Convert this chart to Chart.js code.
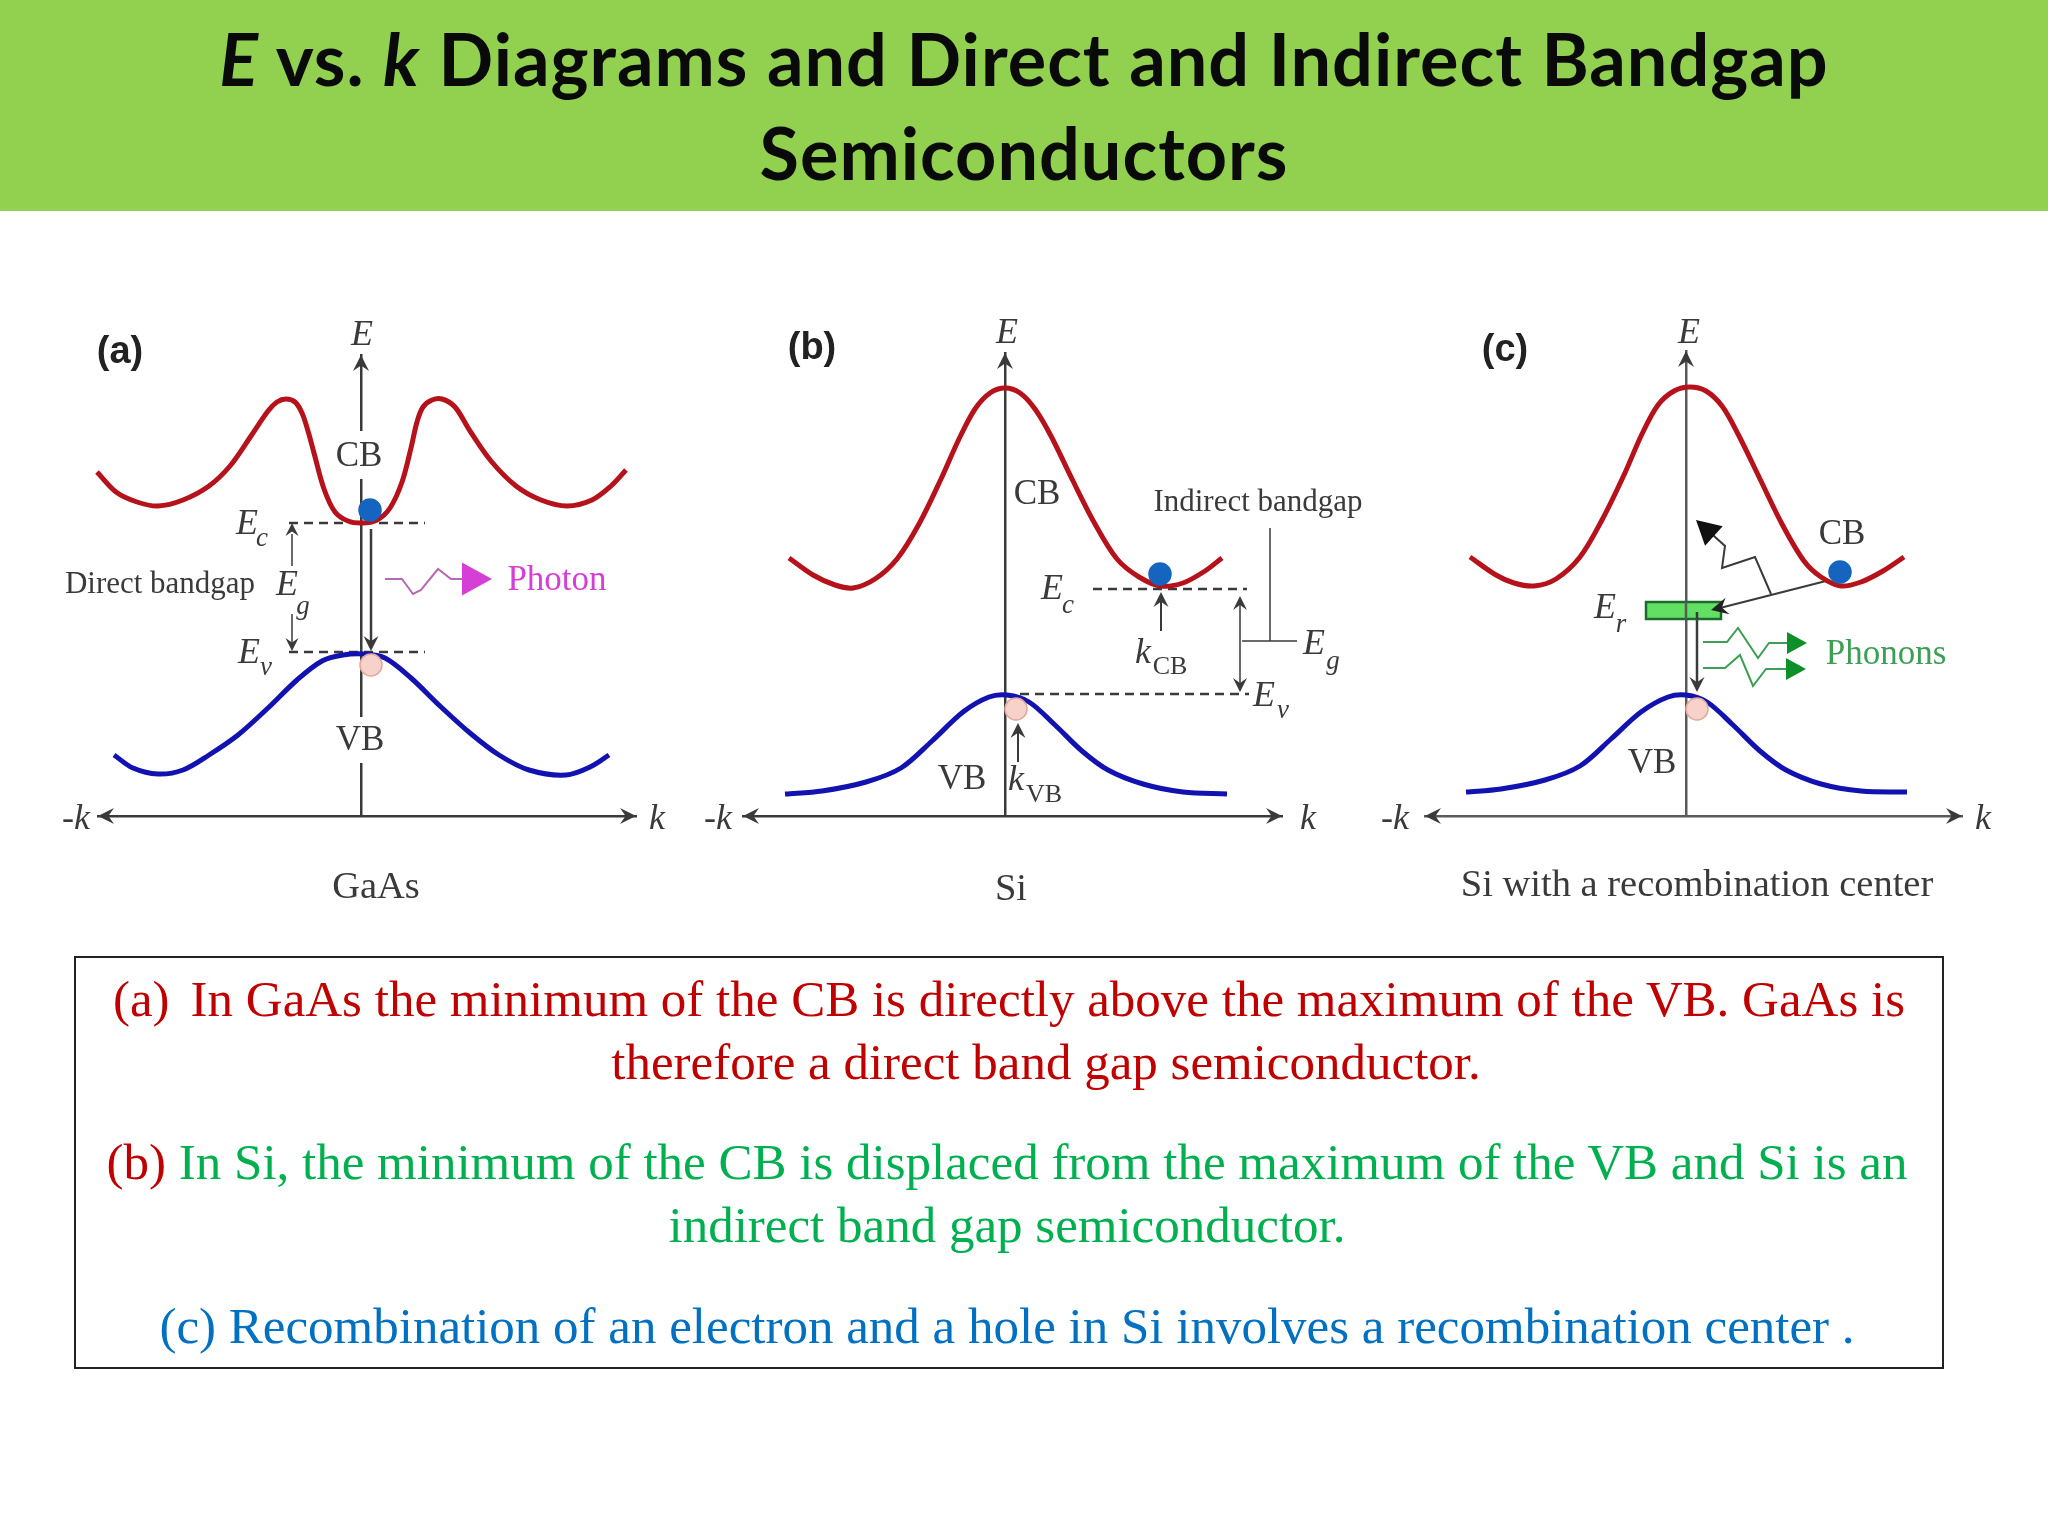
<!DOCTYPE html>
<html>
<head>
<meta charset="utf-8">
<title>E vs. k Diagrams</title>
<script src="https://cdn.jsdelivr.net/npm/chart.js@4/dist/chart.umd.min.js"></script>
<style>
  html, body { margin: 0; padding: 0; background: #fff; }
  #page { position: relative; width: 2048px; height: 1536px; overflow: hidden; }
  #head { position: absolute; left: 0; top: 0; width: 2048px; height: 211px; background: #92d050; }
  .ttl { position: absolute; left: 0; width: 2048px; text-align: center; font: bold 72px Lato, sans-serif; letter-spacing: 1px; color: #0a0a0a; white-space: nowrap; line-height: 80px; }
  #box { position: absolute; left: 74px; top: 956px; width: 1866px; height: 409px; border: 2px solid #222; }
  .ln { position: absolute; width: 2048px; left: 0; text-align: center; font: 51px "Liberation Serif", serif; line-height: 60px; white-space: pre; }
  canvas { position: absolute; filter: blur(0.6px); }
</style>
</head>
<body>
<div id="page">
  <div id="head"></div>
  <div class="ttl" style="top:18px"><i>E</i> vs. <i>k</i> Diagrams and Direct and Indirect Bandgap</div>
  <div class="ttl" style="top:112px">Semiconductors</div>
  <div id="box"></div>
  <div class="ln" style="top:969px;left:-15px;color:#c00000">(a)<span style="margin-left:21px">In GaAs the minimum of the CB is directly above the maximum of the VB. GaAs is</span></div>
  <div class="ln" style="top:1032px;left:22px;color:#c00000">therefore a direct band gap semiconductor.</div>
  <div class="ln" style="top:1132px;left:-17px;color:#00b050"><span style="color:#c00000">(b)</span> In Si, the minimum of the CB is displaced from the maximum of the VB and Si is an</div>
  <div class="ln" style="top:1195px;left:-17px;color:#00b050">indirect band gap semiconductor.</div>
  <div class="ln" style="top:1296px;left:-17px;color:#0070c0">(c) Recombination of an electron and a hole in Si involves a recombination center .</div>
  <canvas id="chartA"></canvas>
  <canvas id="chartB"></canvas>
  <canvas id="chartC"></canvas>
</div>
<script>
// band curves, k = distance from the E axis, E = height over the baseline
var aCBk = [-264,-245,-224,-203,-178,-152,-131,-110,-93,-84,-75,-66,-59,-53,-47,-37,-26,-13,1,16,29,41,50,56,62,71,81,94,109,130,155,180,206,231,250,265];
var aCBe = [347,327,317,313,319,333,353,383,408,417,420,417,406,388,366,330,307,298,296,299,311,337,371,397,412,419,420,412,388,358,333,319,313,319,333,349];
var aVBk = [-247,-228,-203,-178,-152,-123,-93,-64,-39,-18,3,24,50,79,109,138,168,205,231,248];
var aVBe = [64,51,45,49,64,84,111,139,158,164,165,161,141,113,86,64,49,44,53,64];

var bCBk = [-216,-192,-170,-152,-130,-108,-86,-64,-46,-30,-15,0,15,30,46,68,90,112,134,156,178,200,217];
var bCBe = [261,244,234,231,240,260,295,340,380,410,426,431,426,410,383,338,295,260,242,233,236,248,261];
var bVBk = [-220,-183,-139,-104,-73,-42,-16,2,24,50,77,103,138,178,222];
var bVBe = [25,28,37,51,78,107,122,124,117,94,68,49,35,27,25];

var cCBk = [-216,-190,-172,-152,-130,-106,-84,-62,-44,-28,-12,4,20,36,52,74,96,118,135,155,175,197,218];
var cCBe = [262,244,236,233,240,262,299,344,385,414,428,432,428,413,385,340,295,258,242,233,237,248,262];
var cVBk = [-220,-185,-141,-106,-75,-45,-18,0,21,47,74,100,135,175,221];
var cVBe = [27,30,39,53,80,107,122,124,117,94,68,49,35,28,27];

var RED = '#b5121b', BLUE = '#1212b0', INK = '#3a3a3a', MAG = '#d63fd6', GRN = '#0f8f2a', LGRN = '#3c9f55';
var BASE = 3; // height of the k axis in the band data

var FONTS = {
  tag: 'bold 38px "Liberation Sans", sans-serif',
  it: 'italic 36px "Liberation Serif", serif',
  sub: 'italic 27px "Liberation Serif", serif',
  rom: '35px "Liberation Serif", serif',
  low: '26px "Liberation Serif", serif',
  cap: '38.5px "Liberation Serif", serif',
  note: '31px "Liberation Serif", serif'
};

function pts(list) {
  return list.map(function (p) { return { x: p[0], y: p[1] }; });
}
function curve(xs, ys, color) {
  return { data: xs.map(function (x, i) { return { x: x, y: ys[i] }; }), showLine: true, borderColor: color, borderWidth: 5,
    tension: 0.33, pointRadius: 0, order: 2, clip: false };
}
function seg(list, color, width, dash) {
  return { data: pts(list), showLine: true, borderColor: color, borderWidth: width || 2, borderDash: dash || [],
    tension: 0, pointRadius: 0, order: 3, clip: false };
}
function dot(x, y, fill, edge) {
  return { data: [{ x: x, y: y }], showLine: false, pointRadius: 11, backgroundColor: fill, borderColor: edge, borderWidth: 1.5, order: 1, clip: false };
}

// draws arrow heads, green box and labels on top, positions go through the scales
var extras = {
  id: 'extras',
  beforeDatasetsDraw: function (chart, args, o) {
    var c = chart.ctx, sx = chart.scales.x, sy = chart.scales.y;
    (o.masks || []).forEach(function (m) {
      c.fillStyle = '#fff';
      c.fillRect(sx.getPixelForValue(m[0]), sy.getPixelForValue(m[3]), sx.getPixelForValue(m[1]) - sx.getPixelForValue(m[0]), sy.getPixelForValue(m[2]) - sy.getPixelForValue(m[3]));
    });
  },
  afterDatasetsDraw: function (chart, args, o) {
    var c = chart.ctx, sx = chart.scales.x, sy = chart.scales.y;
    if (o.rect) {
      var r = o.rect;
      c.fillStyle = '#63e063'; c.strokeStyle = '#1c6b2c'; c.lineWidth = 2.5;
      c.fillRect(sx.getPixelForValue(r[0]), sy.getPixelForValue(r[3]), sx.getPixelForValue(r[1]) - sx.getPixelForValue(r[0]), sy.getPixelForValue(r[2]) - sy.getPixelForValue(r[3]));
      c.strokeRect(sx.getPixelForValue(r[0]), sy.getPixelForValue(r[3]), sx.getPixelForValue(r[1]) - sx.getPixelForValue(r[0]), sy.getPixelForValue(r[2]) - sy.getPixelForValue(r[3]));
      // the axis and the arrow stay visible through the box
      (o.overBox || []).forEach(function (l) {
        c.strokeStyle = l[2]; c.lineWidth = 2.5; c.beginPath();
        c.moveTo(sx.getPixelForValue(l[0][0]), sy.getPixelForValue(l[0][1]));
        c.lineTo(sx.getPixelForValue(l[1][0]), sy.getPixelForValue(l[1][1]));
        c.stroke();
      });
    }
    (o.arrows || []).forEach(function (a) {
      var tx = sx.getPixelForValue(a.tip[0]), ty = sy.getPixelForValue(a.tip[1]);
      var fx = sx.getPixelForValue(a.from[0]), fy = sy.getPixelForValue(a.from[1]);
      var ang = Math.atan2(ty - fy, tx - fx), s = a.size || 16;
      c.save(); c.translate(tx, ty); c.rotate(ang);
      c.fillStyle = a.color || INK;
      c.beginPath(); c.moveTo(0, 0);
      c.lineTo(-s, -s * (a.solid ? 0.55 : 0.5));
      if (!a.solid) c.lineTo(-s * 0.65, 0);
      c.lineTo(-s, s * (a.solid ? 0.55 : 0.5));
      c.closePath(); c.fill();
      c.restore();
    });
    c.textAlign = 'center'; c.textBaseline = 'middle';
    (o.labels || []).forEach(function (l) {
      c.font = FONTS[l[3]];
      c.fillStyle = l[4] || INK;
      c.fillText(l[0], sx.getPixelForValue(l[1]), sy.getPixelForValue(l[2]) + 1);
    });
  }
};

function panel(id, box, ox, oy, lim, datasets, extra) {
  var cv = document.getElementById(id);
  cv.style.left = box[0] + 'px';
  cv.style.top = box[1] + 'px';
  cv.width = box[2];
  cv.height = box[3];
  var axis = { display: true, ticks: { display: false }, grid: { display: false }, border: { display: true, color: lim[3], width: 2.5 } };
  new Chart(cv.getContext('2d'), {
    type: 'scatter',
    data: { datasets: datasets },
    plugins: [extras],
    options: {
      responsive: false,
      animation: false,
      events: [],
      layout: { padding: {
        left: ox + lim[0] - box[0],
        right: box[0] + box[2] - (ox + lim[1]),
        top: oy - lim[2] - box[1],
        bottom: box[1] + box[3] - (oy - BASE)
      } },
      plugins: { legend: { display: false }, tooltip: { enabled: false }, extras: extra },
      scales: {
        x: Object.assign({ type: 'linear', min: lim[0], max: lim[1], position: { y: BASE } }, axis),
        y: Object.assign({ type: 'linear', min: BASE, max: lim[2], position: { x: 0 } }, axis)
      }
    }
  });
}

var DASH = [9, 6];

panel('chartA', [40, 290, 640, 640], 361, 819, [-263, 275, 464, INK], [
  curve(aCBk, aCBe, RED),
  curve(aVBk, aVBe, BLUE),
  dot(9, 309, '#1565c0', '#1565c0'),
  dot(10, 154, '#f6d2cb', '#e0a898'),
  seg([[-72, 296], [64, 296]], INK, 2.5, DASH),
  seg([[-72, 167], [64, 167]], INK, 2.5, DASH),
  seg([[-69, 253], [-69, 285]], INK, 1.5),
  seg([[-69, 205], [-69, 175]], INK, 1.5),
  seg([[10, 290], [10, 172]], INK, 2.5),
  seg([[24, 240], [41, 240], [52, 225], [60, 229], [77, 250], [90, 240], [104, 240]], '#b56ab5', 2)
], {
  masks: [[-26, 22, 340, 388], [-26, 24, 56, 102]],
  arrows: [
    { tip: [-263, BASE], from: [0, BASE] }, { tip: [275, BASE], from: [0, BASE] }, { tip: [0, 464], from: [0, BASE] },
    { tip: [-69, 296], from: [-69, 250], size: 13 }, { tip: [-69, 168], from: [-69, 205], size: 13 },
    { tip: [10, 168], from: [10, 290], size: 15 },
    { tip: [131, 240], from: [102, 240], size: 30, solid: true, color: MAG }
  ],
  labels: [
    ['(a)', -241, 467, 'tag', '#222'], ['E', 1, 484, 'it'], ['CB', -2, 363, 'rom'], ['VB', -1, 79, 'rom'],
    ['E', -114, 295, 'it'], ['c', -99, 281, 'sub'], ['E', -74, 234, 'it'], ['g', -58, 213, 'sub'],
    ['E', -112, 166, 'it'], ['v', -95, 152, 'sub'], ['Direct bandgap', -201, 235, 'note'],
    ['Photon', 196, 239, 'rom', MAG], ['-k', -285, 0, 'it'], ['k', 296, 0, 'it'], ['GaAs', 15, -68, 'cap']
  ]
});

panel('chartB', [690, 290, 690, 640], 1005, 819, [-262, 277, 466, INK], [
  curve(bCBk, bCBe, RED),
  curve(bVBk, bVBe, BLUE),
  dot(155, 245, '#1565c0', '#1565c0'),
  dot(11, 110, '#f6d2cb', '#e0a898'),
  seg([[88, 230], [242, 230]], INK, 2.5, DASH),
  seg([[15, 125], [244, 125]], INK, 2.5, DASH),
  seg([[235, 215], [235, 135]], INK, 1.5),
  seg([[237, 178], [292, 178]], INK, 1.5),
  seg([[265, 291], [265, 178]], INK, 1.5),
  seg([[156, 188], [156, 220]], INK, 2),
  seg([[13, 57], [13, 90]], INK, 2)
], {
  arrows: [
    { tip: [-262, BASE], from: [0, BASE] }, { tip: [277, BASE], from: [0, BASE] }, { tip: [0, 466], from: [0, BASE] },
    { tip: [235, 223], from: [235, 180], size: 14 }, { tip: [235, 127], from: [235, 180], size: 14 },
    { tip: [156, 227], from: [156, 188], size: 15 }, { tip: [13, 96], from: [13, 57], size: 15 }
  ],
  labels: [
    ['(b)', -193, 471, 'tag', '#222'], ['E', 2, 486, 'it'], ['CB', 32, 325, 'rom'], ['VB', -43, 40, 'rom'],
    ['Indirect bandgap', 253, 317, 'note'], ['E', 47, 230, 'it'], ['c', 63, 214, 'sub'],
    ['k', 138, 166, 'it'], ['CB', 165, 153, 'low'], ['E', 309, 175, 'it'], ['g', 328, 158, 'sub'],
    ['E', 259, 123, 'it'], ['v', 278, 109, 'sub'], ['k', 11, 39, 'it'], ['VB', 39, 25, 'low'],
    ['-k', -287, 0, 'it'], ['k', 303, 0, 'it'], ['Si', 6, -70, 'cap']
  ]
});

panel('chartC', [1378, 290, 670, 640], 1686, 819, [-261, 276, 468, '#5a5a5a'], [
  curve(cCBk, cCBe, RED),
  curve(cVBk, cVBe, BLUE),
  dot(154, 247, '#1565c0', '#1565c0'),
  dot(11, 110, '#f6d2cb', '#e0a898'),
  seg([[140, 238], [30, 210]], INK, 2),
  seg([[85, 225], [69, 262], [36, 251], [39, 273], [18, 292]], INK, 2),
  seg([[11, 203], [11, 135]], INK, 2.5),
  seg([[17, 177], [41, 177], [52, 191], [72, 161], [83, 176], [104, 176]], LGRN, 2),
  seg([[17, 151], [39, 151], [54, 164], [67, 133], [80, 150], [104, 150]], LGRN, 2)
], {
  rect: [-40, 35, 200, 217],
  overBox: [[[0, 200], [0, 217], '#5a5a5a'], [[11, 200], [11, 207], INK]],
  arrows: [
    { tip: [-261, BASE], from: [0, BASE] }, { tip: [276, BASE], from: [0, BASE] }, { tip: [0, 468], from: [0, BASE] },
    { tip: [25, 209], from: [50, 215], size: 17, color: '#222' },
    { tip: [10, 299], from: [39, 273], size: 24, solid: true, color: '#111' },
    { tip: [11, 127], from: [11, 203], size: 15 },
    { tip: [121, 176], from: [102, 176], size: 20, solid: true, color: GRN },
    { tip: [120, 150], from: [102, 150], size: 20, solid: true, color: GRN }
  ],
  labels: [
    ['(c)', -181, 469, 'tag', '#222'], ['E', 3, 486, 'it'], ['CB', 156, 285, 'rom'], ['VB', -34, 56, 'rom'],
    ['E', -81, 211, 'it'], ['r', -65, 195, 'sub'], ['Phonons', 200, 165, 'rom', LGRN],
    ['-k', -291, 0, 'it'], ['k', 297, 0, 'it'], ['Si with a recombination center', 11, -66, 'cap']
  ]
});
</script>
</body>
</html>
